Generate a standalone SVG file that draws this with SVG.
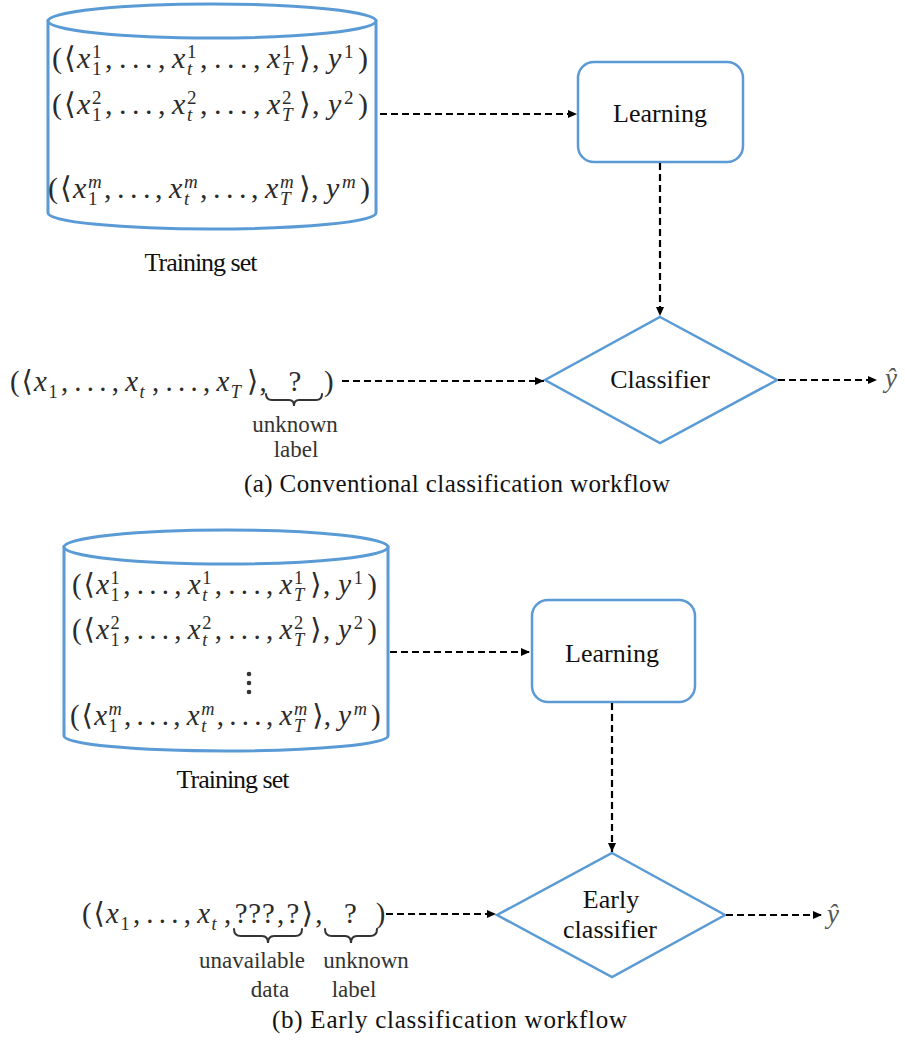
<svg xmlns="http://www.w3.org/2000/svg" width="905" height="1044" viewBox="0 0 905 1044">
  <style>
    .cyl { fill: #fff; stroke: #5b9bd5; stroke-width: 3; }
    .box { fill: #fff; stroke: #5b9bd5; stroke-width: 2.5; }
    .lbl { font-family: "Liberation Serif", "DejaVu Serif", serif; font-size: 26px; fill: #111; text-anchor: middle; }
    .m { font-family: "Liberation Serif", "DejaVu Serif", "DejaVu Sans", serif; font-size: 30px; fill: #2b2b2b; }
    .it { font-style: italic; }
    .sc { font-size: 19px; }
    .dots { letter-spacing: 5.5px; }
    .note { font-family: "Liberation Serif", "DejaVu Serif", serif; font-size: 23px; fill: #333; text-anchor: middle; }
    .cap { font-family: "Liberation Serif", "DejaVu Serif", serif; font-size: 25px; fill: #111; }
    .conn { fill: none; stroke: #000; stroke-width: 2.2; stroke-dasharray: 7 4; marker-end: url(#ah); }
    .brace { fill: none; stroke: #333; stroke-width: 2; stroke-linecap: round; }
  </style>
  <defs>
    <marker id="ah" viewBox="0 0 9 8" refX="9" refY="4" markerWidth="9" markerHeight="8" markerUnits="userSpaceOnUse" orient="auto">
      <path d="M0,0 L9,4 L0,8 z" fill="#000"/>
    </marker>
  </defs>

  <rect width="905" height="1044" fill="#fff"/>

  <!-- ===== (a) conventional workflow ===== -->
  <g id="training-set-a">
    <path class="cyl" d="M48,21 L48,213 A164,16 0 0 0 376,213 L376,21 Z"/>
    <ellipse class="cyl" cx="212" cy="21" rx="164" ry="17"/>
    <text class="m" transform="translate(52,68)"><tspan x="0" y="0">(</tspan><tspan x="12">⟨</tspan><tspan x="25" class="it">x</tspan><tspan x="40" y="-10" class="sc">1</tspan><tspan x="40" y="7" class="sc">1</tspan><tspan x="53" y="0">,</tspan><tspan x="67" class="dots">...</tspan><tspan x="106">,</tspan><tspan x="120" class="it">x</tspan><tspan x="135" y="-10" class="sc">1</tspan><tspan x="135" y="7" class="sc it">t</tspan><tspan x="148" y="0">,</tspan><tspan x="162" class="dots">...</tspan><tspan x="201">,</tspan><tspan x="215" class="it">x</tspan><tspan x="230" y="-10" class="sc">1</tspan><tspan x="230" y="7" class="sc it">T</tspan><tspan x="247" y="0">⟩</tspan><tspan x="260">,</tspan><tspan x="276" class="it">y</tspan><tspan x="292" y="-10" class="sc">1</tspan><tspan x="306" y="0">)</tspan></text>
    <text class="m" transform="translate(52,114)"><tspan x="0" y="0">(</tspan><tspan x="12">⟨</tspan><tspan x="25" class="it">x</tspan><tspan x="40" y="-10" class="sc">2</tspan><tspan x="40" y="7" class="sc">1</tspan><tspan x="53" y="0">,</tspan><tspan x="67" class="dots">...</tspan><tspan x="106">,</tspan><tspan x="120" class="it">x</tspan><tspan x="135" y="-10" class="sc">2</tspan><tspan x="135" y="7" class="sc it">t</tspan><tspan x="148" y="0">,</tspan><tspan x="162" class="dots">...</tspan><tspan x="201">,</tspan><tspan x="215" class="it">x</tspan><tspan x="230" y="-10" class="sc">2</tspan><tspan x="230" y="7" class="sc it">T</tspan><tspan x="247" y="0">⟩</tspan><tspan x="260">,</tspan><tspan x="276" class="it">y</tspan><tspan x="292" y="-10" class="sc">2</tspan><tspan x="306" y="0">)</tspan></text>
    <text class="m" transform="translate(48,198)"><tspan x="0" y="0">(</tspan><tspan x="12">⟨</tspan><tspan x="25" class="it">x</tspan><tspan x="40" y="-10" class="sc it">m</tspan><tspan x="40" y="7" class="sc">1</tspan><tspan x="56" y="0">,</tspan><tspan x="69" class="dots">...</tspan><tspan x="107">,</tspan><tspan x="121" class="it">x</tspan><tspan x="136" y="-10" class="sc it">m</tspan><tspan x="136" y="7" class="sc it">t</tspan><tspan x="152" y="0">,</tspan><tspan x="165" class="dots">...</tspan><tspan x="203">,</tspan><tspan x="217" class="it">x</tspan><tspan x="232" y="-10" class="sc it">m</tspan><tspan x="232" y="7" class="sc it">T</tspan><tspan x="251" y="0">⟩</tspan><tspan x="263">,</tspan><tspan x="278" class="it">y</tspan><tspan x="294" y="-10" class="sc it">m</tspan><tspan x="312" y="0">)</tspan></text>
    <text class="lbl" x="201" y="271" font-size="22" textLength="113">Training set</text>
  </g>

  <g id="learning-a">
    <rect class="box" x="578" y="62" width="165" height="100" rx="16"/>
    <text class="lbl" x="660" y="122">Learning</text>
  </g>

  <g id="classifier-a">
    <polygon class="box" points="660,317 777,380 660,443 545,380"/>
    <text class="lbl" x="660" y="388">Classifier</text>
  </g>

  <g id="input-a">
    <text class="m" transform="translate(10,391) scale(0.96)"><tspan x="0" y="0">(</tspan><tspan x="12">⟨</tspan><tspan x="25" class="it">x</tspan><tspan x="40" y="7" class="sc">1</tspan><tspan x="53" y="0">,</tspan><tspan x="67" class="dots">...</tspan><tspan x="106">,</tspan><tspan x="120" class="it">x</tspan><tspan x="135" y="7" class="sc it">t</tspan><tspan x="148" y="0">,</tspan><tspan x="162" class="dots">...</tspan><tspan x="201">,</tspan><tspan x="215" class="it">x</tspan><tspan x="230" y="7" class="sc it">T</tspan><tspan x="247" y="0">⟩</tspan><tspan x="260">,</tspan><tspan x="290">?</tspan><tspan x="327">)</tspan></text>
    <path class="brace" d="M266,394 Q266,400 272,400 L289,400 Q294,400 294,406 Q294,400 299,400 L316,400 Q322,400 322,394"/>
    <text class="note" x="295" y="432">unknown</text>
    <text class="note" x="296" y="457">label</text>
  </g>

  <g id="output-a">
    <text class="m it" x="885" y="387" style="font-size:27px;fill:#555">ŷ</text>
  </g>

  <text class="cap" x="244" y="492" textLength="426">(a) Conventional classification workflow</text>

  <!-- ===== (b) early workflow ===== -->
  <g id="training-set-b">
    <path class="cyl" d="M64,547 L64,736 A162,15 0 0 0 388,736 L388,547 Z"/>
    <ellipse class="cyl" cx="226" cy="547" rx="162" ry="17"/>
    <text class="m" transform="translate(72,594) scale(0.965)"><tspan x="0" y="0">(</tspan><tspan x="12">⟨</tspan><tspan x="25" class="it">x</tspan><tspan x="40" y="-10" class="sc">1</tspan><tspan x="40" y="7" class="sc">1</tspan><tspan x="53" y="0">,</tspan><tspan x="67" class="dots">...</tspan><tspan x="106">,</tspan><tspan x="120" class="it">x</tspan><tspan x="135" y="-10" class="sc">1</tspan><tspan x="135" y="7" class="sc it">t</tspan><tspan x="148" y="0">,</tspan><tspan x="162" class="dots">...</tspan><tspan x="201">,</tspan><tspan x="215" class="it">x</tspan><tspan x="230" y="-10" class="sc">1</tspan><tspan x="230" y="7" class="sc it">T</tspan><tspan x="247" y="0">⟩</tspan><tspan x="260">,</tspan><tspan x="276" class="it">y</tspan><tspan x="292" y="-10" class="sc">1</tspan><tspan x="306" y="0">)</tspan></text>
    <text class="m" transform="translate(72,639) scale(0.965)"><tspan x="0" y="0">(</tspan><tspan x="12">⟨</tspan><tspan x="25" class="it">x</tspan><tspan x="40" y="-10" class="sc">2</tspan><tspan x="40" y="7" class="sc">1</tspan><tspan x="53" y="0">,</tspan><tspan x="67" class="dots">...</tspan><tspan x="106">,</tspan><tspan x="120" class="it">x</tspan><tspan x="135" y="-10" class="sc">2</tspan><tspan x="135" y="7" class="sc it">t</tspan><tspan x="148" y="0">,</tspan><tspan x="162" class="dots">...</tspan><tspan x="201">,</tspan><tspan x="215" class="it">x</tspan><tspan x="230" y="-10" class="sc">2</tspan><tspan x="230" y="7" class="sc it">T</tspan><tspan x="247" y="0">⟩</tspan><tspan x="260">,</tspan><tspan x="276" class="it">y</tspan><tspan x="292" y="-10" class="sc">2</tspan><tspan x="306" y="0">)</tspan></text>
    <circle cx="249" cy="674" r="2.3" fill="#333"/>
    <circle cx="249" cy="683" r="2.3" fill="#333"/>
    <circle cx="249" cy="692" r="2.3" fill="#333"/>
    <text class="m" transform="translate(70,725) scale(0.965)"><tspan x="0" y="0">(</tspan><tspan x="12">⟨</tspan><tspan x="25" class="it">x</tspan><tspan x="40" y="-10" class="sc it">m</tspan><tspan x="40" y="7" class="sc">1</tspan><tspan x="56" y="0">,</tspan><tspan x="69" class="dots">...</tspan><tspan x="107">,</tspan><tspan x="121" class="it">x</tspan><tspan x="136" y="-10" class="sc it">m</tspan><tspan x="136" y="7" class="sc it">t</tspan><tspan x="152" y="0">,</tspan><tspan x="165" class="dots">...</tspan><tspan x="203">,</tspan><tspan x="217" class="it">x</tspan><tspan x="232" y="-10" class="sc it">m</tspan><tspan x="232" y="7" class="sc it">T</tspan><tspan x="251" y="0">⟩</tspan><tspan x="263">,</tspan><tspan x="278" class="it">y</tspan><tspan x="294" y="-10" class="sc it">m</tspan><tspan x="312" y="0">)</tspan></text>
    <text class="lbl" x="233" y="788" font-size="22" textLength="113">Training set</text>
  </g>

  <g id="learning-b">
    <rect class="box" x="532" y="600" width="163" height="102" rx="16"/>
    <text class="lbl" x="612" y="662">Learning</text>
  </g>

  <g id="classifier-b">
    <polygon class="box" points="612,853 725,915 612,977 497,915"/>
    <text class="lbl" x="611" y="908">Early</text>
    <text class="lbl" x="610" y="938">classifier</text>
  </g>

  <g id="input-b">
    <text class="m" transform="translate(82,923) scale(0.96)"><tspan x="0" y="0">(</tspan><tspan x="12">⟨</tspan><tspan x="25" class="it">x</tspan><tspan x="40" y="7" class="sc">1</tspan><tspan x="53" y="0">,</tspan><tspan x="67" class="dots">...</tspan><tspan x="106">,</tspan><tspan x="120" class="it">x</tspan><tspan x="135" y="7" class="sc it">t</tspan><tspan x="148" y="0">,</tspan><tspan x="159" style="letter-spacing:1px">???</tspan><tspan x="203">,</tspan><tspan x="213">?</tspan><tspan x="229">⟩</tspan><tspan x="243">,</tspan><tspan x="273">?</tspan><tspan x="306">)</tspan></text>
    <path class="brace" d="M234,929 Q234,936 241,936 L262,936 Q268,936 268,943 Q268,936 274,936 L295,936 Q302,936 302,929"/>
    <path class="brace" d="M325,929 Q325,936 332,936 L345,936 Q351,936 351,943 Q351,936 357,936 L370,936 Q377,936 377,929"/>
    <text class="note" x="252" y="968">unavailable</text>
    <text class="note" x="270" y="997">data</text>
    <text class="note" x="366" y="968">unknown</text>
    <text class="note" x="354" y="997">label</text>
  </g>

  <g id="output-b">
    <text class="m it" x="827" y="923" style="font-size:27px;fill:#555">ŷ</text>
  </g>

  <text class="cap" x="272" y="1028" textLength="355">(b) Early classification workflow</text>

  <!-- dashed flow connectors -->
  <g id="connectors">
    <path class="conn" d="M380,114 L577,114"/>
    <path class="conn" d="M660,163 L660,316"/>
    <path class="conn" d="M342,381 L544,381"/>
    <path class="conn" d="M778,380 L877,380"/>
    <path class="conn" d="M390,652 L530,652"/>
    <path class="conn" d="M612,703 L612,852"/>
    <path class="conn" d="M386,914 L496,914"/>
    <path class="conn" d="M726,915 L822,915"/>
  </g>
</svg>
